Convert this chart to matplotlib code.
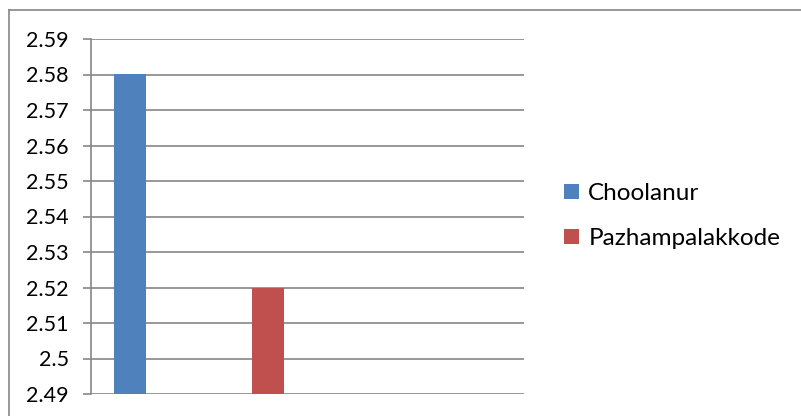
import matplotlib
matplotlib.use("Agg")
import matplotlib.pyplot as plt
from matplotlib.lines import Line2D
from matplotlib.patches import Patch
import numpy as np

sites = ["Choolanur", "Pazhampalakkode"]
values = [2.58, 2.52]
colors = ["#4F81BD", "#C0504D"]
yticks = [2.49, 2.50, 2.51, 2.52, 2.53, 2.54, 2.55, 2.56, 2.57, 2.58, 2.59]
ytick_labels = ["2.49", "2.5", "2.51", "2.52", "2.53", "2.54", "2.55", "2.56", "2.57", "2.58", "2.59"]

plt.rcParams['font.family'] = ['Lato', 'DejaVu Sans']

W, H = 801, 416
fig = plt.figure(figsize=(W/100, H/100), dpi=100)
ax = fig.add_axes([91/W, (H-394)/H, (524-91)/W, (394-39)/H])

x = np.arange(len(sites))
base = yticks[0]
for xi, v, c, name in zip(x, values, colors, sites):
    ax.bar(xi, v - base, bottom=base, width=0.231, color=c, label=name, zorder=3)

ax.set_ylim(yticks[0], yticks[-1])
ax.set_xlim(-0.2816, 2.845)
ax.set_yticks(yticks)
ax.set_yticklabels(ytick_labels)
ax.set_xticks([])
ax.yaxis.grid(True, color="#868686", linewidth=1.2, zorder=0)
for s in ["top", "right", "bottom"]:
    ax.spines[s].set_visible(False)
ax.spines["left"].set_color("#868686")
ax.spines["left"].set_linewidth(1.2)
ax.tick_params(axis="y", length=6, width=1.2, color="#868686", pad=10, labelsize=15.5, labelcolor="#000000")

handles = [Patch(facecolor=c, label=n) for c, n in zip(colors, sites)]
fig.legend(handles=handles, loc="center left", bbox_to_anchor=(564/W, 1 - 216/H),
           frameon=False, fontsize=17.5, handlelength=0.6, handleheight=0.6,
           handletextpad=0.4, labelspacing=1.0, borderaxespad=0, borderpad=0)

fig.add_artist(Line2D([9/W, 9/W], [0, 1 - 10/H], color="#868686", linewidth=1.2, transform=fig.transFigure))
fig.add_artist(Line2D([9/W, 1], [1 - 10/H, 1 - 10/H], color="#868686", linewidth=1.2, transform=fig.transFigure))

fig.savefig("out.png", dpi=100)
